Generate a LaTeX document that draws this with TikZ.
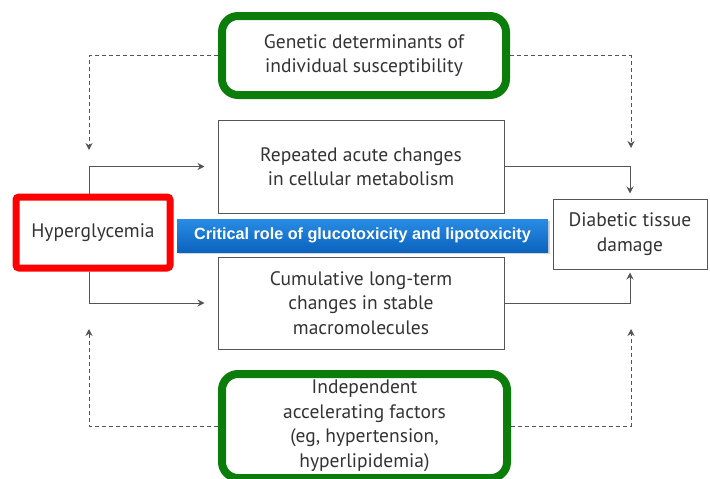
\documentclass[tikz,border=0pt]{standalone}
\usepackage{fontspec}
\setmainfont{PT Sans}
\newfontfamily\bannerfont{Liberation Sans}
\usetikzlibrary{arrows.meta,shadows}
\definecolor{gbox}{HTML}{0B7D0B}
\definecolor{rbox}{HTML}{FF0000}
\definecolor{txt}{HTML}{333333}
\definecolor{edge}{HTML}{555555}
\definecolor{bluetop}{HTML}{2A8CE4}
\definecolor{bluebot}{HTML}{0B63BE}
\tikzset{
  base/.style={rectangle, inner sep=0pt, align=center, text=txt, font=\fontsize{19.5}{24.5}\selectfont},
  greenbox/.style={base, draw=gbox, line width=8pt, rounded corners=16pt},
  redbox/.style={base, draw=rbox, line width=7pt, rounded corners=3pt},
  plainbox/.style={base, draw=edge, line width=1pt},
  arr/.style={draw=edge, line width=1pt, -{Stealth[length=7pt,width=7pt]}},
  darr/.style={draw=edge, line width=1pt, dash pattern=on 4pt off 3pt, -{Stealth[length=7pt,width=7pt]}},
}
\begin{document}
\begin{tikzpicture}[x=1pt,y=-1pt]
\useasboundingbox (0,0) rectangle (710,479);
\begin{scope}
\clip (0,0) rectangle (710,479);
\node[greenbox, minimum width=284pt, minimum height=79pt] (gtop) at (364,55.5) {Genetic determinants of\\individual susceptibility};
\node[greenbox, minimum width=285pt, minimum height=104pt] (gbot) at (364.5,426) {Independent\\accelerating factors\\(eg, hypertension,\\hyperlipidemia)};
\end{scope}
\node[redbox, minimum width=154pt, minimum height=71pt] (red) at (93,232.5) {Hyperglycemia};
\node[plainbox, minimum width=286pt, minimum height=93pt] (rep) at (361,166.5) {Repeated acute changes\\in cellular metabolism};
\node[plainbox, minimum width=286pt, minimum height=92pt] (cum) at (361,303) {Cumulative long-term\\changes in stable\\macromolecules};
\node[plainbox, minimum width=154pt, minimum height=70pt] (dia) at (630,234) {Diabetic tissue\\damage};
\node[rectangle, inner sep=0pt, minimum width=371pt, minimum height=33pt, top color=bluetop, bottom color=bluebot, drop shadow={shadow xshift=2pt, shadow yshift=-2pt, opacity=0.35}, text=white, font=\bannerfont\bfseries\fontsize{16.2}{18}\selectfont] (ban) at (362.5,235.5) {Critical role of glucotoxicity and lipotoxicity};
\coordinate (lx) at (89,0);
\coordinate (tipTL) at (89,150);
\coordinate (tipTR) at (631,148);
\coordinate (tipBL) at (89,329);
\coordinate (tipBR) at (631,329);
\draw[arr] (red.north -| lx) |- ([xshift=-13pt]rep.west);
\draw[arr] (red.south -| lx) |- ([xshift=-13pt]cum.west);
\draw[arr, shorten >=5pt] (rep.east) -| (dia.north);
\draw[arr, shorten >=3pt] (cum.east) -| (dia.south);
\draw[darr] (gtop.west) -| (tipTL);
\draw[darr] (gtop.east) -| (tipTR);
\draw[darr] (gbot.west) -| (tipBL);
\draw[darr] (gbot.east) -| (tipBR);
\end{tikzpicture}
\end{document}
